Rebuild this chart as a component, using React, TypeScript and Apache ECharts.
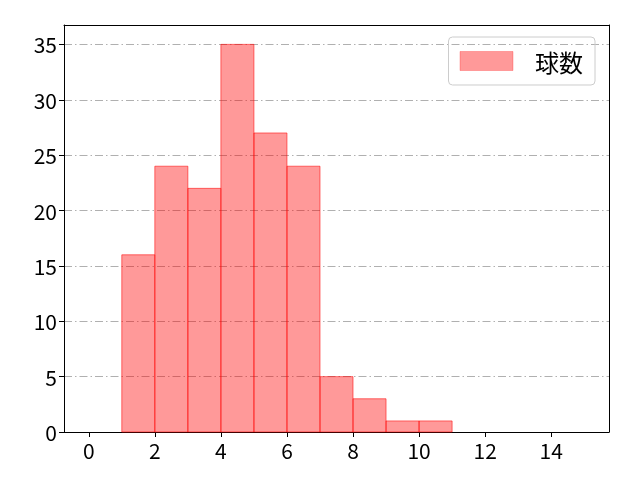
import { useEffect, useRef } from 'react';
import * as echarts from 'echarts';

const binStarts = [1, 2, 3, 4, 5, 6, 7, 8, 9, 10];
const counts = [16, 24, 22, 35, 27, 24, 5, 3, 1, 1];
const xTicks = [0, 2, 4, 6, 8, 10, 12, 14];
const seriesName = '球数';

const FONT = '"Noto Sans CJK JP", "DejaVu Sans", sans-serif';
const frameAxis = { axisLine: { show: true, onZero: false, lineStyle: { color: '#000', width: 1 } }, axisTick: { show: false }, axisLabel: { show: false }, splitLine: { show: false } };

export default function App() {
  const ref = useRef<HTMLDivElement>(null);

  useEffect(() => {
    if (!ref.current) return;
    const chart = echarts.init(ref.current, undefined, { renderer: 'svg' });
    const data = binStarts.map((s, i) => [s, s + 1, counts[i]]);
    chart.setOption({
      animation: false,
      textStyle: { fontFamily: FONT },
      grid: { left: 64, right: 31, top: 25, bottom: 48, containLabel: false },
      legend: {
        data: [{ name: seriesName, icon: 'rect' }],
        right: 45, top: 37,
        itemWidth: 53, itemHeight: 19,
        padding: [12, 12, 12, 11],
        borderColor: '#ccc', borderWidth: 1, borderRadius: 4,
        textStyle: { fontSize: 24, color: '#000', fontFamily: FONT, padding: [0, 0, 0, 17] },
        itemStyle: { color: 'rgba(255,0,0,0.4)', borderColor: 'rgba(255,0,0,0.25)', borderWidth: 1 },
      },
      xAxis: [{
        type: 'value', min: -0.75, max: 15.75,
        axisLine: { show: true, onZero: false, lineStyle: { color: '#000', width: 1 } },
        splitLine: { show: false },
        axisTick: { show: true, length: 5, lineStyle: { color: '#000' }, customValues: xTicks },
        axisLabel: { customValues: xTicks, fontSize: 21, color: '#000', margin: 7, fontFamily: FONT },
      }, {
        type: 'value', min: -0.75, max: 15.75, position: 'top', ...frameAxis,
      }],
      yAxis: [{
        type: 'value', min: 0, max: 36.75, interval: 5,
        axisLine: { show: true, onZero: false, lineStyle: { color: '#000', width: 1 } },
        axisTick: { show: true, length: 5, lineStyle: { color: '#000' } },
        axisLabel: { fontSize: 21, color: '#000', margin: 7, showMaxLabel: false, fontFamily: FONT },
        splitLine: { show: true, lineStyle: { color: '#b0b0b0', width: 1, type: [8, 3, 1.5, 3] } },
      }, {
        type: 'value', min: 0, max: 36.75, position: 'right', ...frameAxis,
      }],
      series: [{
        name: seriesName,
        type: 'custom',
        data,
        encode: { x: [0, 1], y: 2 },
        renderItem: (params: any, api: any) => {
          const p0 = api.coord([api.value(0), api.value(2)]);
          const p1 = api.coord([api.value(1), 0]);
          return {
            type: 'rect',
            shape: { x: p0[0], y: p0[1], width: p1[0] - p0[0], height: p1[1] - p0[1] },
            style: { fill: 'rgba(255,0,0,0.4)', stroke: 'rgba(255,0,0,0.55)', lineWidth: 1 },
          };
        },
        itemStyle: { color: 'rgba(255,0,0,0.4)' },
      }],
    });
    return () => chart.dispose();
  }, []);

  return <div ref={ref} style={{ position: 'fixed', left: 0, top: 0, width: 640, height: 480 }} />;
}
